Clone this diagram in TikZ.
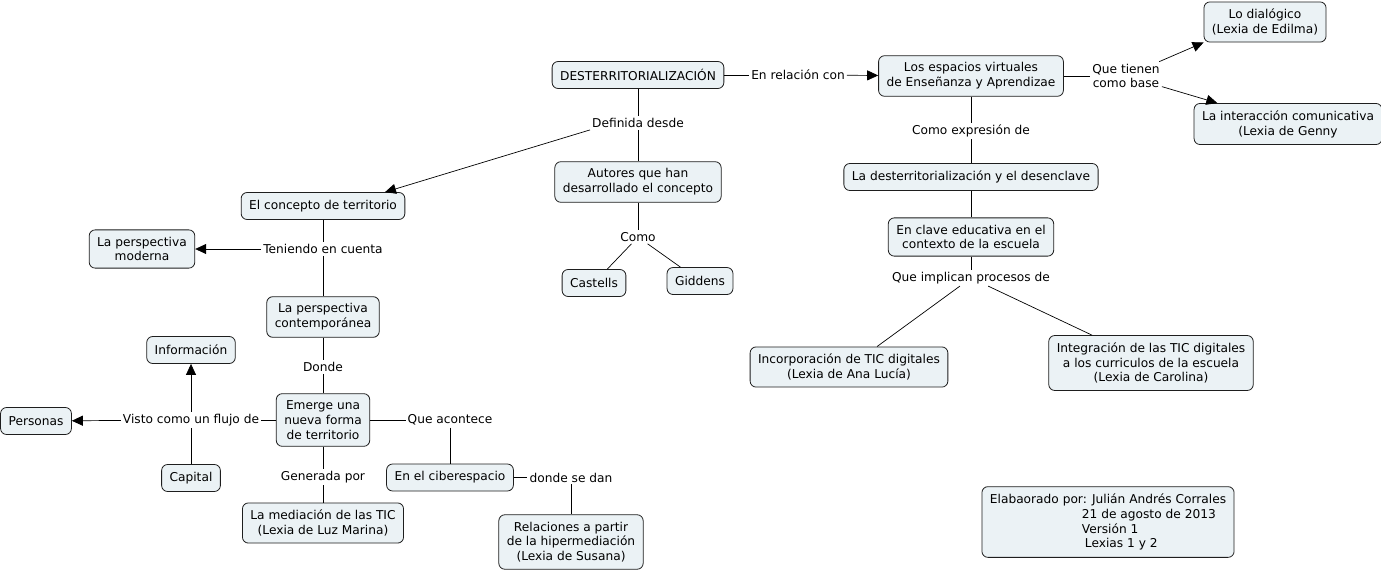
\documentclass[tikz,border=0pt]{standalone}
\usepackage{fontspec}
\setmainfont{DejaVu Sans}
\usetikzlibrary{
    arrows.meta,
    positioning
}
\definecolor{boxfill}{HTML}{EBF2F5}
\definecolor{boxline}{HTML}{1E1E1E}

\begin{document}
\begin{tikzpicture}[x=1pt, y=-1pt,
    concept/.style={draw=boxline, fill=boxfill, rounded corners=6pt, line width=0.8pt,
        align=center, inner xsep=8pt, inner ysep=7pt, minimum height=27pt,
        font=\fontsize{12.2}{14.8}\selectfont},
    link/.style={align=center, inner sep=2pt, font=\fontsize{12.2}{14.8}\selectfont},
    conn/.style={line width=0.7pt},
    arr/.style={conn, -{Triangle[length=11pt, width=10pt]}}]
    \useasboundingbox (0,0) rectangle (1381,573);

    % centre: desterritorializacion
    \node[concept] (desterr) at (638,75) {DESTERRITORIALIZACIÓN};
    \node[link] (enrel) at (798,75) {En relación con};
    \node[link] (definida) at (638,123) {Definida desde};
    \node[concept] (autores) at (638,182) {Autores que han\\desarrollado el concepto};
    \node[link] (como) at (638,237) {Como};
    \node[concept] (castells) at (594,283) {Castells};
    \node[concept] (giddens) at (700,281) {Giddens};

    % left branch
    \node[concept] (concepto) at (323,206) {El concepto de territorio};
    \node[link] (teniendo) at (323,249) {Teniendo en cuenta};
    \node[concept] (moderna) at (142,249) {La perspectiva\\moderna};
    \node[concept] (contemp) at (323,317) {La perspectiva\\contemporánea};
    \node[link] (donde) at (323,367) {Donde};
    \node[concept] (emerge) at (323,420) {Emerge una\\nueva forma\\de territorio};
    \node[link] (visto) at (191,420) {Visto como un flujo de};
    \node[concept] (personas) at (36,421) {Personas};
    \node[concept] (informacion) at (191,350) {Información};
    \node[concept] (capital) at (191,478) {Capital};
    \node[link] (generada) at (323,477) {Generada por};
    \node[concept] (mediacion) at (323,523) {La mediación de las TIC\\(Lexia de Luz Marina)};
    \node[link] (acontece) at (450,420) {Que acontece};
    \node[concept] (ciber) at (450,477.5) {En el ciberespacio};
    \node[link] (dondese) at (571,477.5) {donde se dan};
    \node[concept] (relaciones) at (571,542) {Relaciones a partir\\de la hipermediación\\(Lexia de Susana)};

    % right branch
    \node[concept] (espacios) at (971,76) {Los espacios virtuales\\de Enseñanza y Aprendizae};
    \node[link] (quetienen) at (1126,76) {Que tienen\\como base};
    \node[concept] (dialogico) at (1265,22) {Lo dialógico\\(Lexia de Edilma)};
    \node[concept] (interaccion) at (1288,124) {La interacción comunicativa\\(Lexia de Genny};
    \node[link] (comoexp) at (971,131) {Como expresión de};
    \node[concept] (desenclave) at (971,177) {La desterritorialización y el desenclave};
    \node[concept] (clave) at (971,237) {En clave educativa en el\\contexto de la escuela};
    \node[link] (implican) at (971,278) {Que implican procesos de};
    \node[concept] (incorporacion) at (849,367) {Incorporación de TIC digitales\\(Lexia de Ana Lucía)};
    \node[concept] (integracion) at (1151,363) {Integración de las TIC digitales\\a los curriculos de la escuela\\(Lexia de Carolina)};

    \node[concept, align=left] (autor) at (1108,522) {Elabaorado por: Julián Andrés Corrales\\
        \hspace*{92pt}21 de agosto de 2013\\
        \hspace*{92pt}Versión 1\\
        \hspace*{95pt}Lexias 1 y 2};

    % connectors
    \draw[conn] (desterr) -- (enrel);
    \draw[arr] (enrel) -- (espacios);
    \draw[conn] (desterr) -- (definida);
    \draw[arr] (definida.south west) -- ([xshift=62pt]concepto.north);
    \draw[conn] (definida) -- (autores);
    \draw[conn] (autores) -- (como);
    \draw[conn] (como) -- (castells);
    \draw[conn] (como) -- (giddens);

    \draw[conn] (concepto) -- (teniendo);
    \draw[arr] (teniendo) -- (moderna);
    \draw[conn] (teniendo) -- (contemp);
    \draw[conn] (contemp) -- (donde);
    \draw[conn] (donde) -- (emerge);
    \draw[conn] (emerge) -- (visto);
    \draw[arr] (visto) -- (personas);
    \draw[arr] (visto) -- (informacion);
    \draw[conn] (capital) -- (visto);
    \draw[conn] (emerge) -- (generada);
    \draw[conn] (generada) -- (mediacion);
    \draw[conn] (emerge) -- (acontece);
    \draw[conn] (acontece) -- (ciber);
    \draw[conn] (ciber) -- (dondese);
    \draw[conn] (dondese) -- (relaciones);

    \draw[conn] (espacios) -- (quetienen);
    \draw[arr] (quetienen) -- (dialogico.south west);
    \draw[arr] (quetienen) -- (interaccion);
    \draw[conn] (espacios) -- (comoexp);
    \draw[conn] (comoexp) -- (desenclave);
    \draw[conn] (desenclave) -- (clave);
    \draw[conn] (clave) -- (implican);
    \draw[conn] (implican) -- (incorporacion);
    \draw[conn] (implican) -- (integracion);
\end{tikzpicture}
\end{document}
